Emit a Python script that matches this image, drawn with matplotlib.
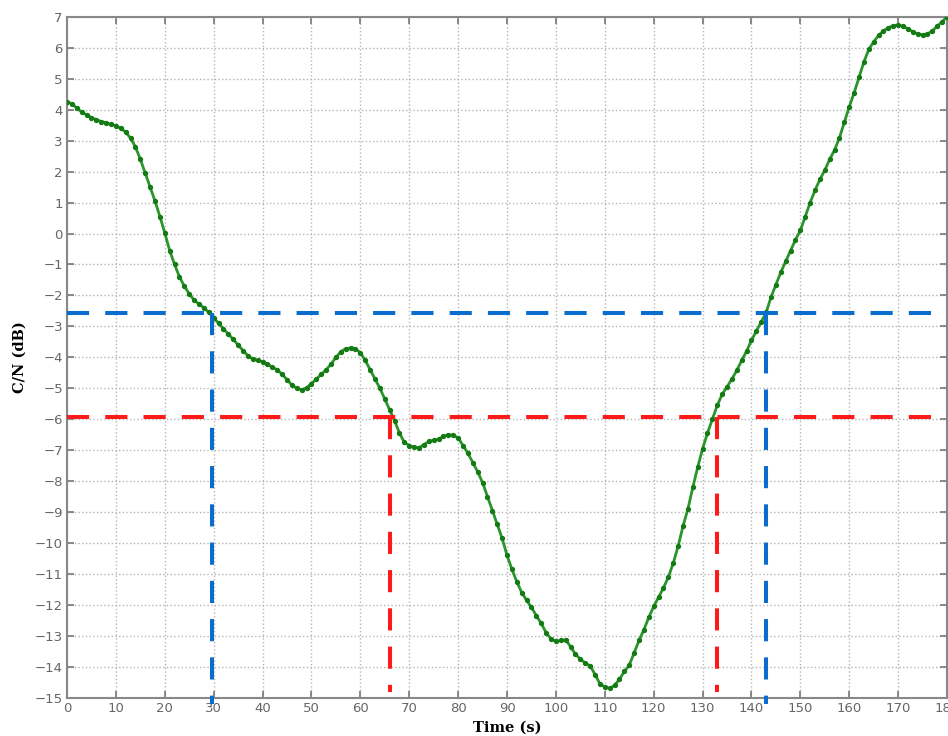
import numpy as np
import matplotlib.pyplot as plt

# C/N trace, one value per second
time_s = np.arange(0, 181, 1)
cn_db = [4.25, 4.20, 4.05, 3.93, 3.83, 3.75, 3.68, 3.62, 3.58, 3.53,
         3.48, 3.40, 3.28, 3.08, 2.80, 2.40, 1.95, 1.50, 1.05, 0.55,
         0.02, -0.55, -1.00, -1.40, -1.70, -1.95, -2.15, -2.28, -2.40, -2.55,
         -2.72, -2.90, -3.08, -3.25, -3.42, -3.60, -3.78, -3.95, -4.05, -4.10,
         -4.14, -4.22, -4.32, -4.40, -4.55, -4.72, -4.90, -5.00, -5.05, -4.98,
         -4.85, -4.70, -4.55, -4.40, -4.22, -4.00, -3.82, -3.72, -3.70, -3.72,
         -3.85, -4.10, -4.40, -4.70, -5.00, -5.35, -5.70, -6.05, -6.45, -6.75,
         -6.85, -6.90, -6.92, -6.82, -6.72, -6.68, -6.65, -6.55, -6.50, -6.52,
         -6.60, -6.85, -7.10, -7.40, -7.70, -8.05, -8.50, -8.95, -9.40, -9.85,
         -10.40, -10.85, -11.25, -11.60, -11.85, -12.08, -12.35, -12.60, -12.90, -13.10,
         -13.18, -13.15, -13.13, -13.35, -13.60, -13.75, -13.88, -13.97, -14.25, -14.55,
         -14.65, -14.70, -14.60, -14.40, -14.15, -13.95, -13.55, -13.15, -12.80, -12.40,
         -12.05, -11.75, -11.45, -11.10, -10.65, -10.10, -9.45, -8.90, -8.20, -7.55,
         -6.95, -6.45, -6.00, -5.55, -5.20, -4.95, -4.70, -4.42, -4.10, -3.80,
         -3.45, -3.15, -2.85, -2.55, -2.05, -1.65, -1.25, -0.90, -0.55, -0.20,
         0.10, 0.55, 1.00, 1.40, 1.75, 2.05, 2.40, 2.70, 3.10, 3.60,
         4.10, 4.55, 5.05, 5.55, 5.95, 6.20, 6.40, 6.55, 6.65, 6.72,
         6.74, 6.70, 6.62, 6.52, 6.45, 6.42, 6.45, 6.55, 6.70, 6.85,
         7.00]

# thresholds and crossing times
blue_level = -2.57
blue_times = [29.7, 143.0]
red_level = -5.92
red_times = [66.0, 133.0]

x_ticks = np.arange(0, 181, 10)
y_ticks = np.arange(-15, 8, 1)

fig = plt.figure(figsize=(9.48, 7.36), dpi=100)
ax = fig.add_axes([0.0707, 0.052, 0.9283, 0.925])

ax.plot(time_s, cn_db, color='#2a952a', lw=2.0, marker='o', ms=2.8,
        mfc='#147a14', mec='#147a14', zorder=3)

dash = (0, (5.5, 4))
ax.plot([0, 180], [blue_level, blue_level], color='#0a6ccc', lw=2.9, ls=dash, zorder=4)
ax.plot([0, 180], [red_level, red_level], color='#ff1a1a', lw=2.9, ls=dash, zorder=4)
for t in blue_times:
    ax.plot([t, t], [blue_level, -15.2], color='#0a6ccc', lw=2.9, ls=dash, zorder=4, clip_on=False)
for t in red_times:
    ax.plot([t, t], [red_level, -14.8], color='#ff1a1a', lw=2.9, ls=dash, zorder=4)

ax.set_xlim(0, 180)
ax.set_ylim(-15, 7)
ax.set_xticks(x_ticks)
ax.set_yticks(y_ticks)
ax.grid(True, ls=':', color='#b5b5b5', lw=1.0)
ax.tick_params(direction='in', top=True, right=True, length=5, width=1.2,
               colors='#777777', labelcolor='#666666', labelsize=9.5, pad=3)
for s in ax.spines.values():
    s.set_color('#888888')
    s.set_linewidth(1.5)

ax.set_xlabel('Time (s)', family='DejaVu Serif', fontweight='bold', fontsize=10.5, labelpad=4)
ax.set_ylabel('C/N (dB)', family='DejaVu Serif', fontweight='bold', fontsize=10.5, labelpad=6)

fig.savefig('out.png', dpi=100)
